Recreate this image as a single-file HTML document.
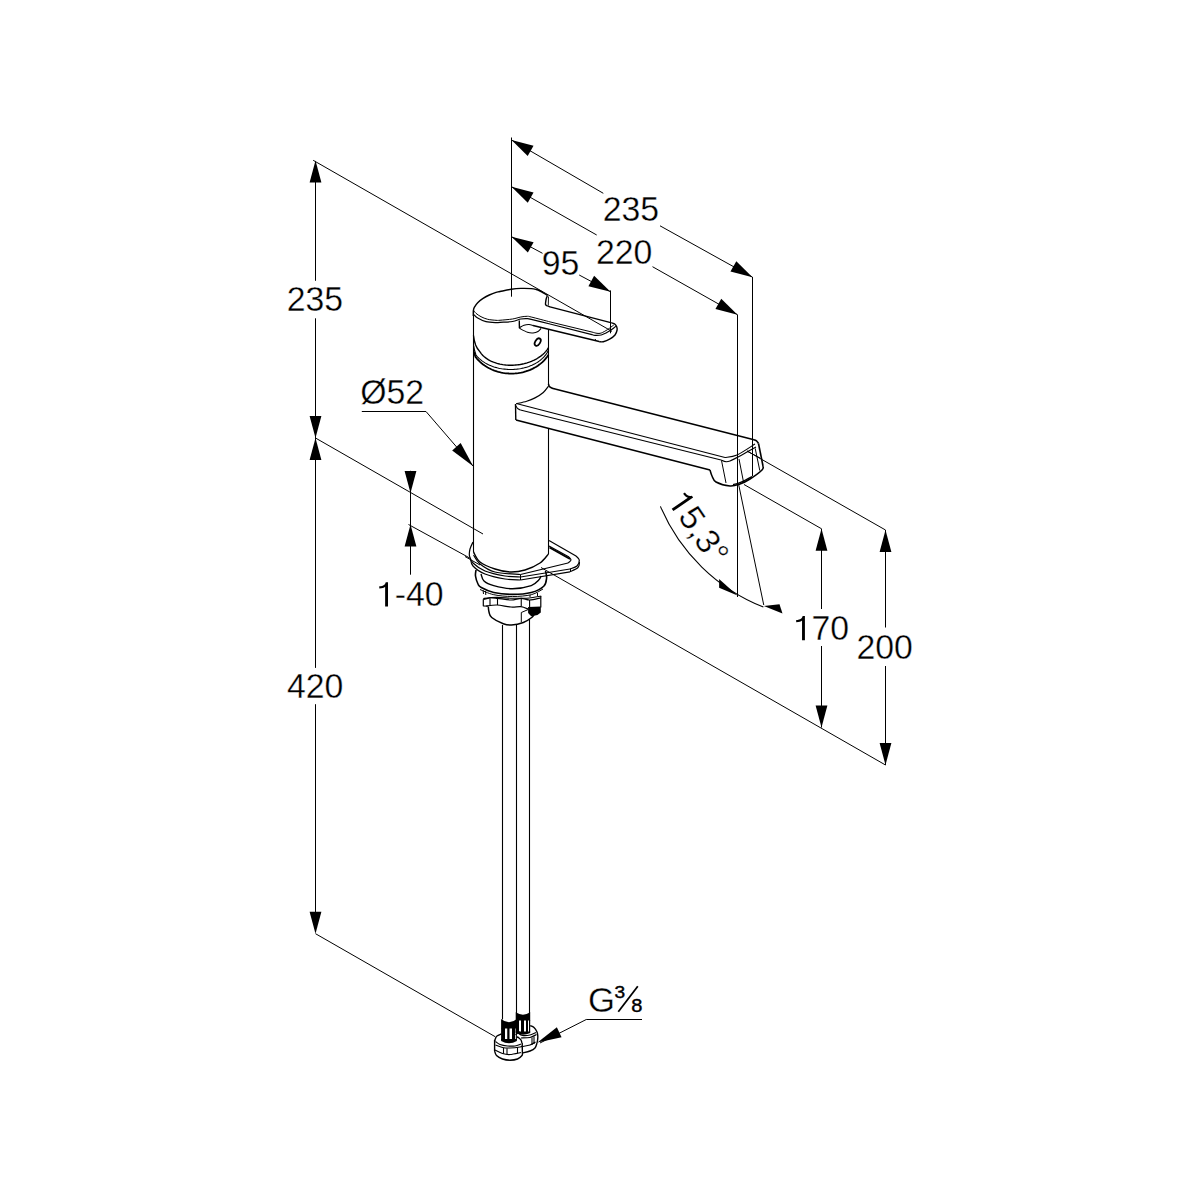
<!DOCTYPE html>
<html><head><meta charset="utf-8"><style>
html,body{margin:0;padding:0;background:#fff;}
svg{display:block;}
svg path,svg line,svg ellipse,svg rect{fill:none;stroke:#000;stroke-linecap:butt;stroke-linejoin:round;}
svg .f{fill:#000;stroke:none;}
svg text{font-family:"Liberation Sans",sans-serif;fill:#000;stroke:#fff;stroke-width:0.35px;}
</style></head><body>
<svg width="1200" height="1200" viewBox="0 0 1200 1200">
<line x1="315.5" y1="162" x2="315.5" y2="280.8" stroke-width="1"/>
<line x1="315.5" y1="318.3" x2="315.5" y2="438" stroke-width="1"/>
<line x1="315.5" y1="438" x2="315.5" y2="667.9" stroke-width="1"/>
<line x1="315.5" y1="704.2" x2="315.5" y2="932" stroke-width="1"/>
<path class="f" d="M315.5,160.6 L309.6,182.6 L321.4,182.6 Z"/>
<path class="f" d="M315.5,438 L321.4,416 L309.6,416 Z"/>
<path class="f" d="M315.5,438 L309.6,460 L321.4,460 Z"/>
<path class="f" d="M315.5,933.7 L321.4,911.7 L309.6,911.7 Z"/>
<g transform="translate(286.72,311.06) scale(0.98,1)"><text x="0" y="0" font-size="34.5">235</text></g>
<g transform="translate(286.93,698.15) scale(0.98,1)"><text x="0" y="0" font-size="34.5">420</text></g>
<line x1="313.2" y1="160.3" x2="612" y2="331.4" stroke-width="1"/>
<line x1="315.5" y1="438" x2="483" y2="534" stroke-width="1"/>
<line x1="541" y1="567.5" x2="885.5" y2="765" stroke-width="1"/>
<line x1="315.5" y1="933.7" x2="495.3" y2="1036.75" stroke-width="1"/>
<line x1="511.5" y1="137.5" x2="511.5" y2="296.7" stroke-width="1"/>
<path class="f" d="M511.5,140 L527.7,156.01 L533.54,145.76 Z"/>
<path class="f" d="M752.5,277.2 L736.3,261.19 L730.46,271.44 Z"/>
<line x1="511.5" y1="140" x2="603.3" y2="193.3" stroke-width="1"/>
<line x1="660" y1="225.8" x2="752.5" y2="277.2" stroke-width="1"/>
<g transform="translate(602.77,221.06) scale(0.98,1)"><text x="0" y="0" font-size="34.5">235</text></g>
<path class="f" d="M511.5,186.7 L527.74,202.68 L533.55,192.41 Z"/>
<path class="f" d="M737.5,314.7 L721.26,298.72 L715.45,308.99 Z"/>
<line x1="511.5" y1="186.7" x2="596.7" y2="235" stroke-width="1"/>
<line x1="652.5" y1="266.7" x2="737.5" y2="314.7" stroke-width="1"/>
<g transform="translate(596.02,263.56) scale(0.98,1)"><text x="0" y="0" font-size="34.5">220</text></g>
<path class="f" d="M511.5,236.7 L527.87,252.54 L533.6,242.23 Z"/>
<path class="f" d="M610.5,291.7 L594.13,275.86 L588.4,286.17 Z"/>
<line x1="511.5" y1="236.7" x2="542.5" y2="253.3" stroke-width="1"/>
<line x1="579.2" y1="275" x2="610.5" y2="291.7" stroke-width="1"/>
<g transform="translate(541.82,275.25) scale(0.98,1)"><text x="0" y="0" font-size="34.5">95</text></g>
<line x1="752.5" y1="277" x2="752.5" y2="476" stroke-width="1"/>
<line x1="737.5" y1="314.7" x2="737.5" y2="597" stroke-width="1"/>
<line x1="610.5" y1="290.4" x2="610.5" y2="333.3" stroke-width="1"/>
<line x1="821.5" y1="528.75" x2="821.5" y2="609" stroke-width="1"/>
<line x1="821.5" y1="646" x2="821.5" y2="727.5" stroke-width="1"/>
<path class="f" d="M821.5,528.75 L815.6,550.75 L827.4,550.75 Z"/>
<path class="f" d="M821.5,727.5 L827.4,705.5 L815.6,705.5 Z"/>
<g transform="translate(792.78,640.25) scale(0.98,1)"><path class="f" transform="scale(34.5)" d="M0.359,0 L0.359,-0.703 L0.292,-0.703 C0.276,-0.640 0.235,-0.592 0.101,-0.586 L0.101,-0.522 C0.186,-0.522 0.245,-0.540 0.274,-0.572 L0.274,0 Z"/><text x="19.18" y="0" font-size="34.5">70</text></g>
<line x1="885.5" y1="530" x2="885.5" y2="627.5" stroke-width="1"/>
<line x1="885.5" y1="666" x2="885.5" y2="765" stroke-width="1"/>
<path class="f" d="M885.5,530 L879.6,552 L891.4,552 Z"/>
<path class="f" d="M885.5,765 L891.4,743 L879.6,743 Z"/>
<g transform="translate(856.47,659.25) scale(0.98,1)"><text x="0" y="0" font-size="34.5">200</text></g>
<line x1="744" y1="484.5" x2="821.5" y2="528.75" stroke-width="1"/>
<line x1="747" y1="451" x2="885.5" y2="530" stroke-width="1"/>
<line x1="738.75" y1="485" x2="763.75" y2="605" stroke-width="1"/>
<path d="M660.42,506.4 A186.44,186.44 0 0 0 763.38,607.03" stroke-width="1.1"/>
<path class="f" d="M737.5,595.4 L719.1,579.1 L719.1,587.8 Z"/>
<path class="f" d="M763.8,606.1 L779.5,604.2 L782.5,613.6 Z"/>
<g transform="translate(666.5,501) rotate(55.7)"><path class="f" transform="scale(34)" d="M0.359,0 L0.359,-0.703 L0.292,-0.703 C0.276,-0.640 0.235,-0.592 0.101,-0.586 L0.101,-0.522 C0.186,-0.522 0.245,-0.540 0.274,-0.572 L0.274,0 Z"/><text x="18.9" y="0" font-size="34">5,3°</text></g>
<line x1="361.8" y1="411.5" x2="426" y2="411.5" stroke-width="1"/>
<line x1="426" y1="411.5" x2="473.2" y2="466.2" stroke-width="1"/>
<path class="f" d="M473.2,466.2 L460.65,443.08 L452.17,450.4 Z"/>
<g transform="translate(360.29,404.3) scale(0.98,1)"><text x="0" y="0" font-size="34.5">Ø52</text></g>
<line x1="410.5" y1="470.8" x2="410.5" y2="574.7" stroke-width="1"/>
<path class="f" d="M410.5,493 L416.4,471 L404.6,471 Z"/>
<path class="f" d="M410.5,524.5 L404.6,546.5 L416.4,546.5 Z"/>
<line x1="408.5" y1="524.5" x2="470.4" y2="558.4" stroke-width="1"/>
<g transform="translate(375.87,606.46) scale(0.98,1)"><path class="f" transform="scale(34.5)" d="M0.359,0 L0.359,-0.703 L0.292,-0.703 C0.276,-0.640 0.235,-0.592 0.101,-0.586 L0.101,-0.522 C0.186,-0.522 0.245,-0.540 0.274,-0.572 L0.274,0 Z"/><text x="19.18" y="0" font-size="34.5">-40</text></g>
<line x1="586.25" y1="1019.5" x2="642" y2="1019.5" stroke-width="1"/>
<line x1="586.25" y1="1019.5" x2="540" y2="1043" stroke-width="1"/>
<path class="f" d="M537.5,1042.5 L561.55,1037.23 L556.86,1027.29 Z"/>
<text x="587.9" y="1011.5" font-size="34.7">G</text>
<text transform="translate(614.4,997.5) scale(1.22,1)" font-size="15.7" style="stroke:#000;stroke-width:0.4px">3</text>
<line x1="618.3" y1="1011.7" x2="637.8" y2="986.3" stroke-width="1.8"/>
<text transform="translate(631.3,1011.5) scale(1.12,1)" font-size="17.9" style="stroke:#000;stroke-width:0.4px">8</text>
<line x1="473.5" y1="310" x2="473.5" y2="552" stroke-width="1.1"/>
<line x1="548.5" y1="329.5" x2="548.5" y2="385" stroke-width="1.1"/>
<line x1="548.5" y1="428.7" x2="548.5" y2="554" stroke-width="1.1"/>
<path d="M473.3,316 C473.32,315.08 473.23,311.95 473.4,310.5 C473.57,309.05 473.58,308.6 474.3,307.3 C475.02,306 476.3,304.13 477.7,302.7 C479.1,301.27 480.77,299.98 482.7,298.7 C484.63,297.42 487.08,296.07 489.3,295 C491.52,293.93 494.22,292.88 496,292.3 C497.78,291.72 497.46,292 500,291.5 C502.54,291 507.78,289.82 511.25,289.3 C514.72,288.78 517.47,288.52 520.8,288.4 C524.13,288.28 528.67,288.42 531.25,288.6 C533.83,288.78 534.79,289.1 536.25,289.5 C537.71,289.9 538.75,290.38 540,291 C541.25,291.62 542.5,292.47 543.75,293.2 C545,293.93 546.88,295.03 547.5,295.4" stroke-width="1.4"/>
<path d="M547.5,295.4 C547.3,295.92 546.6,297.43 546.3,298.5 C546,299.57 545.82,300.78 545.7,301.8 C545.58,302.82 545.28,303.9 545.6,304.6 C545.92,305.3 546.87,305.62 547.6,306 C548.33,306.38 549.6,306.75 550,306.9" stroke-width="1.4"/>
<line x1="548.5" y1="296.5" x2="548.3" y2="305.6" stroke-width="0.9"/>
<line x1="550" y1="306.9" x2="611.7" y2="322.9" stroke-width="1.4"/>
<path d="M611.7,322.9 C612.25,323.12 614.17,323.57 615,324.2 C615.83,324.83 616.35,325.73 616.7,326.7 C617.05,327.67 617.38,328.62 617.1,330 C616.82,331.38 616.25,333.47 615,335 C613.75,336.53 611.55,338.08 609.6,339.2 C607.65,340.32 605.03,341.28 603.3,341.7 C601.57,342.12 599.88,341.7 599.2,341.7" stroke-width="1.4"/>
<path d="M474,310.7 C474.33,311.13 474.83,312.3 476,313.3 C477.17,314.3 479.05,315.7 481,316.7 C482.95,317.7 485.2,318.7 487.7,319.3 C490.2,319.9 493.95,320.14 496,320.3 C498.05,320.46 497.25,320.47 500,320.25 C502.75,320.03 509.03,319.54 512.5,319 C515.97,318.46 518.38,317.45 520.8,317 C523.22,316.55 525.26,316.3 527,316.3 C528.74,316.3 527.42,316.07 531.25,317 C535.08,317.93 546.88,321.08 550,321.9" stroke-width="1"/>
<line x1="550" y1="321.9" x2="593" y2="332.3" stroke-width="1"/>
<path d="M593,332.3 C593.67,332.47 595.62,333.18 597,333.3 C598.38,333.42 599.5,333.62 601.25,333 C603,332.38 605.42,330.93 607.5,329.6 C609.58,328.27 612.71,325.77 613.75,325" stroke-width="1"/>
<path d="M474,314.7 C474.62,315.25 475.7,316.83 477.7,318 C479.7,319.17 482.95,320.92 486,321.7 C489.05,322.48 493.67,322.6 496,322.7 C498.33,322.8 497.25,322.5 500,322.3 C502.75,322.1 509.03,322.05 512.5,321.5 C515.97,320.95 518.38,319.48 520.8,319 C523.22,318.52 525.26,318.53 527,318.6 C528.74,318.67 527.42,318.5 531.25,319.4 C535.08,320.3 546.88,323.23 550,324" stroke-width="1.2"/>
<line x1="550" y1="324" x2="592" y2="334.6" stroke-width="1.2"/>
<path d="M592,334.6 C592.5,334.73 593.46,335.33 595,335.4 C596.54,335.47 599.42,335.4 601.25,335 C603.08,334.6 604.26,333.9 606,333 C607.74,332.1 610.07,330.73 611.7,329.6 C613.33,328.48 615.12,326.81 615.8,326.25" stroke-width="1.2"/>
<line x1="595.3" y1="339" x2="595.5" y2="341" stroke-width="1"/>
<line x1="519.3" y1="320.5" x2="519.4" y2="328.3" stroke-width="1.4"/>
<path d="M519.4,328.3 C520.75,328.97 525.23,331.52 527.5,332.3 C529.77,333.08 531.25,333.13 533,333 C534.75,332.87 536.67,332.25 538,331.5 C539.33,330.75 540.5,329 541,328.5" stroke-width="1.1"/>
<path d="M519.8,327.5 C520.5,327.12 522.47,325.7 524,325.2 C525.53,324.7 527.5,324.45 529,324.5 C530.5,324.55 532.33,325.33 533,325.5" stroke-width="1.1"/>
<line x1="533" y1="325.5" x2="599.2" y2="341.5" stroke-width="1.4"/>
<ellipse cx="537.7" cy="342.1" rx="2.4" ry="4.1" transform="rotate(32 537.7 342.1)" stroke-width="1.8"/>
<path d="M473.5,335.5 L474.3,340.5 L475.6,345 L477.6,348.8 L480,351.85 L481.43,353.84 L482.85,355.44 L484.28,356.77 L485.71,357.92 L487.14,358.92 L488.56,359.8 L489.99,360.58 L491.42,361.28 L492.84,361.9 L494.27,362.46 L495.7,362.95 L497.12,363.39 L498.55,363.77 L499.98,364.11 L501.41,364.39 L502.83,364.64 L504.26,364.84 L505.69,365 L507.11,365.12 L508.54,365.2 L509.97,365.24 L511.4,365.25 L512.82,365.21 L514.25,365.15 L515.68,365.04 L517.1,364.9 L518.53,364.72 L519.96,364.51 L521.39,364.26 L522.81,363.96 L524.24,363.63 L525.67,363.26 L527.09,362.84 L528.52,362.38 L529.95,361.88 L531.38,361.32 L532.8,360.71 L534.23,360.05 L535.66,359.32 L537.08,358.52 L538.51,357.65 L539.94,356.7 L541.36,355.64 L542.79,354.46 L544.22,353.14 L545.65,351.63 L547.07,349.86 L548.5,347.68" stroke-width="1.4"/>
<path d="M473.7,345.5 L474.6,350.5 L476,355.01 L477.51,356.8 L479.02,358.33 L480.53,359.66 L482.04,360.85 L483.55,361.9 L485.06,362.86 L486.57,363.72 L488.08,364.49 L489.59,365.2 L491.1,365.84 L492.61,366.41 L494.12,366.93 L495.64,367.39 L497.15,367.8 L498.66,368.17 L500.17,368.48 L501.68,368.75 L503.19,368.98 L504.7,369.16 L506.21,369.31 L507.72,369.41 L509.23,369.47 L510.74,369.49 L512.25,369.47 L513.76,369.41 L515.27,369.3 L516.78,369.16 L518.29,368.98 L519.8,368.75 L521.31,368.48 L522.82,368.16 L524.33,367.8 L525.84,367.39 L527.35,366.93 L528.86,366.41 L530.38,365.84 L531.89,365.2 L533.4,364.5 L534.91,363.73 L536.42,362.87 L537.93,361.93 L539.44,360.88 L540.95,359.71 L542.46,358.39 L543.97,356.88 L545.48,355.13 L546.99,353.01 L548.5,350.27" stroke-width="1.1"/>
<path d="M473.8,351.5 L475.5,356.9 L477.02,358.78 L478.54,360.45 L480.06,361.93 L481.58,363.26 L483.1,364.46 L484.62,365.55 L486.15,366.55 L487.67,367.46 L489.19,368.28 L490.71,369.03 L492.23,369.72 L493.75,370.33 L495.27,370.89 L496.79,371.39 L498.31,371.83 L499.83,372.22 L501.35,372.56 L502.88,372.85 L504.4,373.09 L505.92,373.28 L507.44,373.42 L508.96,373.52 L510.48,373.57 L512,373.57 L513.52,373.53 L515.04,373.44 L516.56,373.31 L518.08,373.13 L519.6,372.9 L521.12,372.62 L522.65,372.29 L524.17,371.91 L525.69,371.47 L527.21,370.98 L528.73,370.43 L530.25,369.82 L531.77,369.14 L533.29,368.4 L534.81,367.58 L536.33,366.68 L537.85,365.69 L539.38,364.6 L540.9,363.4 L542.42,362.07 L543.94,360.59 L545.46,358.92 L546.98,357.03 L548.5,354.82" stroke-width="1.8"/>
<path d="M548.5,386.2 C547.63,387.25 545.55,390.55 543.3,392.5 C541.05,394.45 537.77,396.44 535,397.9 C532.23,399.36 529.83,400.27 526.7,401.25 C523.58,402.23 517.99,403.33 516.25,403.75" stroke-width="1.2"/>
<path d="M548.5,384 C548.62,384.38 548.67,385.65 549.2,386.3 C549.73,386.95 550.57,387.4 551.7,387.9 C552.83,388.4 555.28,389.07 556,389.3" stroke-width="1.6"/>
<line x1="515.5" y1="404" x2="515.8" y2="420" stroke-width="1.4"/>
<line x1="556" y1="389.3" x2="753" y2="439.5" stroke-width="1.6"/>
<path d="M753,439.5 C753.58,439.72 755.58,440.13 756.5,440.8 C757.42,441.47 758.17,443.05 758.5,443.5" stroke-width="1.6"/>
<line x1="758.5" y1="443.5" x2="763" y2="466" stroke-width="1.6"/>
<path d="M763,466 C762.83,466.67 764.17,467.83 762,470 C759.83,472.17 753.67,476.67 750,479 C746.33,481.33 743.33,482.83 740,484 C736.67,485.17 734,486.33 730,486 C726,485.67 719,483.67 716,482 C713,480.33 713,478 712,476 C711,474 710.33,471 710,470" stroke-width="1.6"/>
<line x1="710" y1="470" x2="516" y2="420" stroke-width="1.6"/>
<line x1="516.25" y1="403.5" x2="725" y2="457.5" stroke-width="1.1"/>
<path d="M725,457.5 C727,457.08 732,457.25 737,455 C742,452.75 752,445.83 755,444" stroke-width="1.1"/>
<path d="M515.8,405.8 C516.08,406.22 516.73,407.6 517.5,408.3 C518.27,409 519.92,409.72 520.4,410" stroke-width="1.1"/>
<line x1="520.4" y1="410" x2="721" y2="460" stroke-width="1.1"/>
<path d="M721,460 C722.5,460.17 724.17,463.17 730,461 C735.83,458.83 751.67,449.33 756,447" stroke-width="1.1"/>
<line x1="721.5" y1="460.5" x2="726" y2="483" stroke-width="1"/>
<line x1="739" y1="459" x2="743.5" y2="482" stroke-width="1"/>
<line x1="755.2" y1="448.4" x2="759.8" y2="470.6" stroke-width="1"/>
<path d="M733,484.6 C733.83,484.4 736,484.1 738,483.4 C740,482.7 742.67,481.53 745,480.4 C747.33,479.27 750.83,477.23 752,476.6" stroke-width="1.3"/>
<line x1="747" y1="451" x2="760" y2="458" stroke-width="1"/>
<path d="M473,542 C472.5,543.17 470.58,546.67 470,549 C469.42,551.33 469,553.67 469.5,556 C470,558.33 470.42,560.5 473,563 C475.58,565.5 479.67,568.83 485,571 C490.33,573.17 499.08,575 505,576 C510.92,577 517.92,576.83 520.5,577" stroke-width="1.2"/>
<line x1="520.5" y1="577" x2="570" y2="569" stroke-width="1.2"/>
<path d="M570,569 C571.17,568.5 575.45,567.5 577,566 C578.55,564.5 579.47,561.67 579.3,560 C579.13,558.33 576.55,556.67 576,556" stroke-width="1.2"/>
<line x1="576" y1="556" x2="549" y2="540.5" stroke-width="1.2"/>
<path d="M470.3,558 C470.75,559.33 470.55,563.33 473,566 C475.45,568.67 479.67,571.83 485,574 C490.33,576.17 499.08,578 505,579 C510.92,580 517.92,579.83 520.5,580" stroke-width="1.2"/>
<line x1="520.5" y1="580" x2="570" y2="571.8" stroke-width="1.2"/>
<path d="M570,571.8 C571.33,571.08 576.42,569.13 578,567.5 C579.58,565.87 579.25,562.92 579.5,562" stroke-width="1.2"/>
<path d="M473.5,555 C474.58,556.5 476.42,561.17 480,564 C483.58,566.83 488.25,570.25 495,572 C501.75,573.75 516.25,574.08 520.5,574.5" stroke-width="1.2"/>
<line x1="520.5" y1="574.5" x2="568" y2="563" stroke-width="1.2"/>
<path d="M568,563 C568.5,562.5 570.83,561 571,560 C571.17,559 569.33,557.5 569,557" stroke-width="1.2"/>
<line x1="569" y1="557" x2="549" y2="546" stroke-width="1.2"/>
<line x1="549.5" y1="547.5" x2="570" y2="559" stroke-width="1.8"/>
<line x1="520.5" y1="574.5" x2="520.5" y2="580" stroke-width="1"/>
<line x1="570.5" y1="568.8" x2="570.5" y2="572" stroke-width="1"/>
<path d="M473.5,552 C474.58,553.67 476.42,559.17 480,562 C483.58,564.83 490,567.33 495,569 C500,570.67 505,571.83 510,572 C515,572.17 520,571.5 525,570 C530,568.5 536.08,565.67 540,563 C543.92,560.33 547.08,555.5 548.5,554" stroke-width="1.4"/>
<line x1="465" y1="556.5" x2="480" y2="565" stroke-width="1"/>
<path d="M476,570 C475.92,571 475.17,573.67 475.5,576 C475.83,578.33 477.04,582.08 478,584 C478.96,585.92 478.62,586.08 481.25,587.5 C483.88,588.92 488.54,591.35 493.75,592.5 C498.96,593.65 506.25,594.4 512.5,594.4 C518.75,594.4 526.04,593.86 531.25,592.5 C536.46,591.14 541.19,588.67 543.75,586.25 C546.31,583.83 546.31,580.54 546.6,578 C546.89,575.46 545.68,572.17 545.5,571" stroke-width="1.6"/>
<path d="M481,574 C481.5,575.17 481.88,579.07 484,581 C486.12,582.93 489,584.31 493.75,585.6 C498.5,586.89 506.25,588.75 512.5,588.75 C518.75,588.75 526.88,587.06 531.25,585.6 C535.62,584.14 537.12,581.6 538.75,580 C540.38,578.4 540.62,576.67 541,576" stroke-width="1.4"/>
<path d="M480,589.5 C482.29,590.37 488.33,593.53 493.75,594.7 C499.17,595.87 506.25,596.5 512.5,596.5 C518.75,596.5 526.17,595.95 531.25,594.7 C536.33,593.45 541.04,589.95 543,589" stroke-width="1"/>
<line x1="483" y1="590" x2="483.5" y2="594" stroke-width="1"/>
<line x1="485.5" y1="591" x2="485.8" y2="595" stroke-width="1"/>
<line x1="530" y1="595" x2="530" y2="597" stroke-width="1"/>
<line x1="537.5" y1="593" x2="537.5" y2="596" stroke-width="1"/>
<path d="M483.3,599.2 L483.3,605.8 L488.3,606.2" stroke-width="1.2"/>
<path d="M483.3,598.5 C484.32,598.38 487.03,597.98 489.4,597.8 C491.77,597.62 493.73,597.33 497.5,597.4 C501.27,597.47 507.98,598.05 512,598.2 C516.02,598.35 518.7,598.33 521.6,598.3 C524.5,598.27 526.13,598.38 529.4,598 C532.67,597.62 539.23,596.33 541.2,596" stroke-width="1.1"/>
<path d="M483.3,599.5 C484.42,599.22 487.63,598 490,597.8 C492.37,597.6 494,597.93 497.5,598.3 C501,598.67 507.03,600 511,600 C514.97,600 518.2,598.3 521.3,598.3 C524.4,598.3 526.35,600.08 529.6,600 C532.85,599.92 538.93,598.17 540.8,597.8" stroke-width="1.2"/>
<line x1="490" y1="598.5" x2="490" y2="605.5" stroke-width="1.1"/>
<line x1="497.5" y1="598.5" x2="497.5" y2="605" stroke-width="1.1"/>
<line x1="521.25" y1="599" x2="521.25" y2="606" stroke-width="1.1"/>
<line x1="529.6" y1="600" x2="529.6" y2="607" stroke-width="1.1"/>
<line x1="540.8" y1="596" x2="540.8" y2="607.5" stroke-width="1.2"/>
<path d="M486,606 C487.83,605.83 492.83,604.83 497,605 C501.17,605.17 507,606.72 511,607 C515,607.28 518.12,606.33 521,606.7 C523.88,607.07 527.08,608.78 528.3,609.2" stroke-width="1.2"/>
<path d="M488.3,606.7 C488.42,607.58 488.43,610.2 489,612 C489.57,613.8 489.32,615.54 491.7,617.5 C494.08,619.46 500,622.5 503.3,623.75 C506.6,625 508.17,625.21 511.5,625 C514.83,624.79 519.93,623.75 523.3,622.5 C526.67,621.25 529.75,619.08 531.7,617.5 C533.65,615.92 534.45,613.75 535,613" stroke-width="1.5"/>
<line x1="521.3" y1="612.5" x2="521.3" y2="622" stroke-width="1"/>
<line x1="521.3" y1="612.5" x2="528.3" y2="609.5" stroke-width="1"/>
<path class="f" d="M528.1,606.9 L540.8,606.6 L540.8,612.5 L537.5,615 L531.25,616.2 L528.1,613.1 Z"/>
<line x1="502.5" y1="625" x2="502.5" y2="1019.5" stroke-width="1.1"/>
<line x1="516.5" y1="625" x2="516.5" y2="1013" stroke-width="1.1"/>
<line x1="529.5" y1="619" x2="529.5" y2="1013" stroke-width="1.1"/>
<path class="f" d="M501.1,1019 Q509,1025.5 516.9,1019 L516.9,1028.6 L501.1,1028.6 Z"/>
<path class="f" d="M515.7,1012.3 Q523,1017 530.2,1012.3 L530.2,1020.6 L515.7,1020.6 Z"/>
<rect class="f" x="501.1" y="1028" width="3.9" height="12"/>
<rect class="f" x="507.25" y="1028" width="2.25" height="12"/>
<rect class="f" x="512" y="1028" width="3" height="12"/>
<rect class="f" x="515.8" y="1028" width="1.1" height="12"/>
<rect class="f" x="515.7" y="1020" width="3.3" height="12.3"/>
<rect class="f" x="521" y="1020" width="3" height="12.3"/>
<rect class="f" x="526" y="1020" width="2" height="12.3"/>
<rect class="f" x="529" y="1020" width="1.2" height="12.3"/>
<path class="f" d="M501.1,1039 L516.9,1039 L516.9,1041 Q509,1045.5 501.1,1041 Z"/>
<path class="f" d="M515.7,1031.5 L530.2,1031.5 L530.2,1033 Q523,1036.5 515.7,1033 Z"/>
<path d="M530.2,1025.6 C530.83,1025.92 532.87,1026.43 534,1027.5 C535.13,1028.57 536.37,1030.58 537,1032 C537.63,1033.42 537.7,1034.67 537.8,1036 C537.9,1037.33 537.73,1038.83 537.6,1040 C537.47,1041.17 537.1,1042.5 537,1043" stroke-width="1.4"/>
<path d="M537,1043 C536.67,1043.83 536.17,1046.67 535,1048 C533.83,1049.33 532.08,1050.17 530,1051 C527.92,1051.83 523.75,1052.67 522.5,1053" stroke-width="1.4"/>
<path d="M518,1033 C518.75,1033.42 520.5,1035.17 522.5,1035.5 C524.5,1035.83 527.75,1035.5 530,1035 C532.25,1034.5 535,1032.92 536,1032.5" stroke-width="1.2"/>
<path d="M521,1038 C522.5,1037.92 527.42,1038.08 530,1037.5 C532.58,1036.92 535.42,1035 536.5,1034.5" stroke-width="1.2"/>
<path d="M522.5,1046.5 C523.75,1046.25 527.83,1045.75 530,1045 C532.17,1044.25 534.58,1042.5 535.5,1042" stroke-width="1.2"/>
<line x1="532" y1="1037.5" x2="532" y2="1045" stroke-width="1.1"/>
<line x1="534" y1="1036.5" x2="534" y2="1044" stroke-width="1.1"/>
<path d="M515.5,1034.8 C515.92,1034.47 517.33,1033.35 518,1032.8 C518.67,1032.25 519.25,1031.72 519.5,1031.5" stroke-width="1.2"/>
<path d="M494.6,1041 C494.75,1040.58 495.1,1039.33 495.5,1038.5 C495.9,1037.67 496.03,1036.75 497,1036 C497.97,1035.25 500.58,1034.33 501.3,1034" stroke-width="1.4"/>
<path d="M516.8,1036.8 C517.17,1037 518.3,1037.47 519,1038 C519.7,1038.53 520.5,1039.17 521,1040 C521.5,1040.83 521.83,1042.5 522,1043" stroke-width="1.4"/>
<path d="M495.5,1041.5 C496.25,1042 498,1043.75 500,1044.5 C502,1045.25 505,1045.75 507.5,1046 C510,1046.25 512.75,1046.33 515,1046 C517.25,1045.67 520,1044.33 521,1044" stroke-width="1.2"/>
<path d="M495.5,1045 C496.67,1045.42 500.08,1047 502.5,1047.5 C504.92,1048 507.08,1048.08 510,1048 C512.92,1047.92 518,1047.33 520,1047 C522,1046.67 521.67,1046.17 522,1046" stroke-width="1.2"/>
<path d="M495,1050 C496.25,1050.58 500,1052.75 502.5,1053.5 C505,1054.25 506.92,1054.67 510,1054.5 C513.08,1054.33 519.17,1052.83 521,1052.5" stroke-width="1.2"/>
<line x1="503.5" y1="1048" x2="503.5" y2="1053.8" stroke-width="1.1"/>
<line x1="507" y1="1048.2" x2="507" y2="1054.3" stroke-width="1.1"/>
<line x1="517.5" y1="1047.3" x2="517.5" y2="1053.2" stroke-width="1.1"/>
<line x1="494.6" y1="1040" x2="494.6" y2="1051" stroke-width="1.4"/>
<line x1="522.2" y1="1043" x2="522.4" y2="1053" stroke-width="1.4"/>
<path d="M494.6,1051 C494.92,1051.75 495.18,1054.17 496.5,1055.5 C497.82,1056.83 500.25,1058.22 502.5,1059 C504.75,1059.78 507.5,1060.2 510,1060.2 C512.5,1060.2 515.5,1059.78 517.5,1059 C519.5,1058.22 521.18,1056.5 522,1055.5 C522.82,1054.5 522.33,1053.42 522.4,1053" stroke-width="1.4"/>
</svg>
</body></html>
